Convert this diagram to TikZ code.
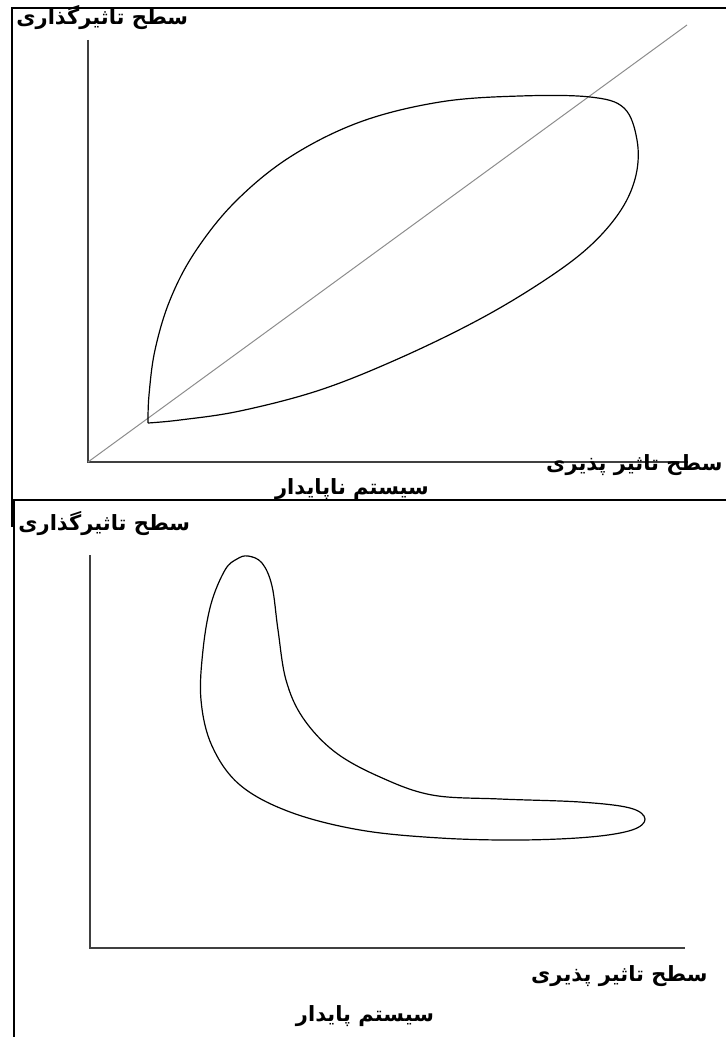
\documentclass[tikz,border=0pt]{standalone}
\usepackage{fontspec}
\newfontfamily\farsi[Script=Arabic]{DejaVu Sans}
\TeXXeTstate=1
\tikzset{
  frameline/.style={draw=black, line width=1.2pt},
  axis/.style={draw=black!75, line width=0.6pt},
  diag/.style={draw=black!45, line width=0.5pt},
  loop/.style={draw=black, line width=0.6pt},
  label/.style={font=\farsi\bfseries\fontsize{10.5}{12}\selectfont, inner sep=0pt},
}
\begin{document}
\begin{tikzpicture}[x=0.5pt, y=-0.5pt]
  \useasboundingbox (0,0) rectangle (725,1037);
  % upper panel
  \draw[frameline] (12,527) -- (12,8) -- (730,8);
  \coordinate (o1) at (88,462);
  \coordinate (ytop1) at (88,40);
  \coordinate (xend1) at (688,462);
  \coordinate (dend) at (687,25);
  \draw[axis] (ytop1) -- (o1) -- (xend1);
  \draw[diag] (o1) -- (dend);
  \draw[loop] plot[smooth, tension=0.6] coordinates {(148,423) (149,395) (155,350) (170,300) (195,252) (235,202) (290,157) (360,122) (440,102) (520,96) (590,97) (624,108) (637,140) (636,175) (621,210) (590,246) (545,280) (480,319) (400,358) (320,390) (240,411) (180,420) (148,423)};
  \node[label, anchor=west] (ylab1) at (16,18) {\beginR سطح تاثیرگذاری\endR};
  \node[label, anchor=east] (xlab1) at (723,465) {\beginR سطح تاثیر پذیری\endR};
  \node[label] (cap1) at (352,489) {\beginR سیستم ناپایدار\endR};
  % lower panel
  \draw[frameline] (14,1040) -- (14,500) -- (730,500);
  \coordinate (o2) at (90,948);
  \coordinate (ytop2) at (90,555);
  \coordinate (xend2) at (685,948);
  \draw[axis] (ytop2) -- (o2) -- (xend2);
  \draw[loop] plot[smooth cycle, tension=0.6] coordinates {(248,556) (262,563) (272,586) (278,630) (286,680) (303,718) (335,752) (380,777) (432,795) (500,799) (580,802) (630,808) (645,819) (632,830) (590,837) (520,840) (440,838) (360,830) (290,812) (240,785) (212,746) (201,700) (203,650) (211,604) (225,570) (237,559)};
  \node[label, anchor=west] (ylab2) at (18,524) {\beginR سطح تاثیرگذاری\endR};
  \node[label, anchor=east] (xlab2) at (708,976) {\beginR سطح تاثیر پذیری\endR};
  \node[label] (cap2) at (365,1016) {\beginR سیستم پایدار\endR};
\end{tikzpicture}
\end{document}
